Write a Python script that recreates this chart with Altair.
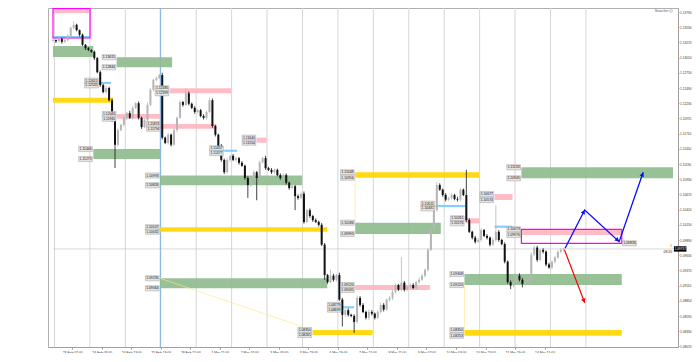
import json
import math
import altair as alt
import pandas as pd

# ---------------- data ----------------
# time axis: bar index (1 bar = 1 hour), each drawn candle spans 2 bars
time_label_bars = [13, 33, 53, 73, 93, 113, 133, 153, 173, 193, 213, 233, 253, 273, 293, 313, 333]
time_labels = ["23 Feb 07:00", "24 Feb 03:00", "24 Feb 23:00", "25 Feb 19:00", "28 Feb 15:00",
               "1 Mar 11:00", "2 Mar 07:00", "3 Mar 03:00", "3 Mar 23:00", "4 Mar 19:00",
               "7 Mar 15:00", "8 Mar 11:00", "9 Mar 07:00", "10 Mar 03:00", "10 Mar 23:00",
               "11 Mar 19:00", "14 Mar 15:00"]
day_separator_bars = [1, 25, 49, 73, 97, 121, 145, 169, 193, 217, 241, 265, 289, 313, 337, 361]
price_ticks = [1.13790, 1.13530, 1.13270, 1.13010, 1.12750, 1.12490, 1.12230, 1.11970, 1.11710,
               1.11450, 1.11190, 1.10930, 1.10670, 1.10410, 1.10150, 1.09890, 1.09630, 1.09370,
               1.09110, 1.08850, 1.08590, 1.08330, 1.08070]

first_open = 1.1330
closes = [
    1.1331, 1.1329, 1.1333, 1.1328, 1.1331, 1.1338, 1.1352, 1.1357, 1.1348, 1.1340,
    1.1323, 1.1317, 1.1314, 1.1311, 1.1300, 1.1276, 1.1254, 1.1242, 1.1249, 1.1228,
    1.1194, 1.1152, 1.1177, 1.1186, 1.1198, 1.1206, 1.1198, 1.1215, 1.1223, 1.1198,
    1.1182, 1.1194, 1.1220, 1.1246, 1.1263, 1.1266, 1.1271, 1.1164, 1.1155, 1.1169,
    1.1152, 1.1177, 1.1198, 1.1225, 1.1220, 1.1240, 1.1222, 1.1215, 1.1208, 1.1211,
    1.1201, 1.1198, 1.1208, 1.1228, 1.1184, 1.1169, 1.1150, 1.1126, 1.1105, 1.1126,
    1.1133, 1.1126, 1.1129, 1.1121, 1.1116, 1.1095, 1.1083, 1.1092, 1.1105, 1.1095,
    1.1122, 1.1129, 1.1112, 1.1109, 1.1105, 1.1109, 1.1100, 1.1095, 1.1100, 1.1087,
    1.1078, 1.1081, 1.1064, 1.1061, 1.1068, 1.1020, 1.1040, 1.1030, 1.1023, 1.1020,
    1.1015, 1.0981, 1.0929, 1.0917, 1.0928, 1.0921, 1.0929, 1.0887, 1.0861, 1.0869,
    1.0861, 1.0859, 1.0849, 1.0890, 1.0878, 1.0866, 1.0856, 1.0866, 1.0863, 1.0856,
    1.0866, 1.0878, 1.0870, 1.0887, 1.0890, 1.0900, 1.0912, 1.0904, 1.0916, 1.0904,
    1.0909, 1.0912, 1.0907, 1.0917, 1.0921, 1.0928, 1.0938, 1.0972, 1.1007, 1.1040,
    1.1083, 1.1075, 1.1066, 1.1058, 1.1061, 1.1066, 1.1059, 1.1058, 1.1075, 1.1066,
    1.1023, 1.1003, 1.0993, 1.0986, 1.0989, 1.1006, 1.0996, 1.0993, 1.0981, 1.0989,
    1.1003, 1.0989, 1.0982, 1.0952, 1.0917, 1.0911, 1.0917, 1.0928, 1.0921, 1.0914,
    1.0917, 1.0921, 1.0964, 1.0976, 1.0955, 1.0972, 1.0969, 1.0947, 1.0942, 1.0952,
    1.0959, 1.0969, 1.0972, 1.0974,
]
# wick lengths beyond the body, in pips
up_wick = [
    2, 1, 3, 2, 2, 3, 2, 6, 2, 1, 2, 1, 2, 1, 2, 2, 3, 2, 4, 2,
    3, 2, 3, 2, 3, 2, 4, 3, 2, 3, 2, 3, 4, 3, 2, 3, 2, 4, 2, 3,
    2, 3, 2, 3, 2, 8, 3, 2, 3, 2, 2, 3, 2, 4, 3, 2, 2, 3, 2, 3,
    2, 3, 2, 2, 3, 2, 3, 4, 3, 2, 3, 2, 4, 2, 3, 2, 2, 3, 2, 3,
    2, 3, 2, 3, 2, 4, 2, 3, 2, 3, 2, 3, 3, 2, 10, 3, 2, 4, 3, 2,
    3, 2, 3, 4, 3, 3, 2, 4, 3, 2, 3, 4, 3, 2, 3, 4, 3, 2, 44, 3,
    2, 3, 3, 2, 4, 3, 2, 3, 4, 3, 5, 3, 2, 3, 2, 3, 2, 4, 3, 2,
    43, 3, 2, 3, 4, 3, 2, 3, 2, 4, 45, 3, 2, 3, 2, 3, 2, 3, 4, 3,
    3, 2, 4, 3, 3, 2, 3, 2, 3, 2, 3, 2, 3, 2,
]
dn_wick = [
    2, 3, 2, 3, 2, 2, 3, 2, 2, 3, 2, 3, 2, 2, 3, 2, 3, 2, 3, 2,
    3, 40, 3, 2, 3, 4, 2, 3, 2, 3, 3, 2, 3, 2, 3, 3, 2, 3, 2, 3,
    3, 2, 3, 2, 3, 2, 3, 2, 3, 3, 2, 3, 3, 2, 3, 3, 2, 3, 3, 2,
    3, 2, 3, 3, 2, 3, 22, 3, 2, 38, 3, 2, 3, 2, 3, 3, 2, 3, 2, 3,
    3, 2, 24, 3, 2, 3, 2, 3, 3, 2, 3, 2, 8, 3, 2, 3, 3, 2, 20, 3,
    3, 2, 19, 3, 3, 2, 3, 4, 3, 3, 2, 3, 3, 2, 3, 4, 3, 2, 3, 3,
    2, 3, 2, 3, 3, 2, 3, 3, 2, 3, 3, 2, 3, 3, 2, 3, 2, 3, 3, 2,
    3, 2, 3, 3, 2, 3, 2, 3, 3, 2, 3, 3, 2, 3, 3, 6, 3, 2, 3, 6,
    3, 2, 4, 3, 3, 2, 3, 3, 2, 3, 3, 2, 3, 2,
]

# supply / demand zones
zone_x1 = [0, 43.1, 0, 43.3, 27.3, 79.1, 73.3, 72.5, 138, 72.5, 72.5, 175.8, 204.7, 204.7,
           204.7, 279.1, 299.1, 317.3, 278.7, 278.7, 0, 317.3]
zone_x2 = [27.3, 80.7, 40.7, 72.5, 72.5, 120.7, 110.7, 168.7, 144.7, 185.8, 185.8, 216.5, 255.3,
           288.7, 262.7, 288.7, 311.3, 420, 385.3, 385.3, 25.1, 385.3]
zone_top = [1.13208, 1.13015, 1.12324, 1.12045, 1.11446, 1.12485, 1.11874, 1.10993, 1.11640,
            1.10107, 1.09235, 1.08350, 1.09120, 1.11048, 1.10186, 1.10261, 1.10677, 1.11133,
            1.09308, 1.08350, 1.13852, 1.10073]
zone_bot = [1.13020, 1.12844, 1.12238, 1.11965, 1.11275, 1.12399, 1.11794, 1.10826, 1.11554,
            1.10032, 1.09064, 1.08265, 1.09035, 1.10956, 1.09993, 1.10176, 1.10574, 1.10945,
            1.09120, 1.08253, 1.13773, 1.09976]
zone_kind = ["demand", "demand", "level", "supply", "demand", "supply", "supply", "demand",
             "supply", "level", "demand", "level", "supply", "level", "demand", "supply",
             "supply", "demand", "demand", "level", "supply", "supply"]
zone_labeled = [False, True, False, True, True, True, True, True, True, True, True, True, True,
                True, True, True, True, True, True, True, False, True]

# light blue pivot lines
pivot_x1 = [0, 31.3, 116, 195.8, 259.1, 299.1]
pivot_x2 = [25.1, 39.3, 124.7, 204, 279.1, 311.3]
pivot_p = [1.13360, 1.12575, 1.11417, 1.08739, 1.10471, 1.10117]
pivot_labeled = [False, True, True, True, True, False]

# magenta boxes
box_x1 = [0, 317.3]
box_x2 = [25.1, 385.3]
box_top = [1.13852, 1.10073]
box_bot = [1.13345, 1.09833]

# faint yellow connectors
conn_x1 = [72.5, 204.7, 278.7]
conn_p1 = [1.09235, 1.10956, 1.09120]
conn_x2 = [169.1, 204.7, 278.7]
conn_p2 = [1.08407, 1.10186, 1.08350]

# projection paths
blue_x = [346.9, 360.2, 383.5, 399.8]
blue_p = [1.09748, 1.10404, 1.09862, 1.11049]
red_x = [346.5, 360.2]
red_p = [1.09720, 1.08817]

current_price = 1.09737
blue_vline_bar = 72.7

# ---------------- layout / style constants ----------------
W, H = 630, 339
X_DOMAIN = [0, 420]
Y_DOMAIN = [1.08060, 1.13858]
PX_BAR = W / (X_DOMAIN[1] - X_DOMAIN[0])
PX_PRICE = H / (Y_DOMAIN[1] - Y_DOMAIN[0])
FONT = "Liberation Sans"
FS = 3.4
FS_AX = 3.2
LAB_W = 9.3
LAB_H = 0.00044
ZONE_COLORS = {"demand": "#8fbc8f", "supply": "#ffb6c1", "level": "#ffd700"}
CANDLE_COLORS = {"bull": "#b5b5b5", "bear": "#111111"}
visible_ticks = [t for t in price_ticks if Y_DOMAIN[0] <= t <= Y_DOMAIN[1]]

x_axis = alt.Axis(
    orient="bottom", values=time_label_bars, title=None, grid=False,
    labelExpr=f"{json.dumps(time_labels)}[indexof({json.dumps(time_label_bars)}, datum.value)]",
    labelFontSize=FS, labelFont=FONT, labelColor="#333333", tickSize=2, tickColor="#999999",
    domainColor="#a0a0a0", labelPadding=1, labelOverlap=False, labelFlush=False, labelAngle=0,
)
y_axis = alt.Axis(
    orient="right", values=visible_ticks, format=".5f", title=None, grid=False,
    labelFontSize=FS_AX, labelFont=FONT, labelColor="#333333", tickSize=1, tickColor="#999999",
    domainColor="#a0a0a0", labelPadding=0.5, labelOverlap=False, labelFlush=False,
)


def X(f="x"):
    return alt.X(f"{f}:Q", scale=alt.Scale(domain=X_DOMAIN, nice=False, zero=False), axis=x_axis)


def Y(f="y"):
    return alt.Y(f"{f}:Q", scale=alt.Scale(domain=Y_DOMAIN, nice=False, zero=False), axis=y_axis)


def C(f="col"):
    return alt.Color(f"{f}:N", scale=None, legend=None)


# ---------------- frames ----------------
opens = [first_open] + closes[:-1]
dirs = ["bull" if c > o else "bear" for o, c in zip(opens, closes)]
candles = pd.DataFrame({
    "x": [2 * i for i in range(len(closes))],
    "o": opens,
    "c": closes,
    "hi": [max(o, c) + u * 0.0001 for o, c, u in zip(opens, closes, up_wick)],
    "lo": [min(o, c) - d * 0.0001 for o, c, d in zip(opens, closes, dn_wick)],
    "col": [CANDLE_COLORS[d] for d in dirs],
})

zones = pd.DataFrame({"x": zone_x1, "x2": zone_x2, "y": zone_top, "y2": zone_bot,
                      "col": [ZONE_COLORS[k] for k in zone_kind]})

lab_rows = []
for x1, t, b, lab in zip(zone_x1, zone_top, zone_bot, zone_labeled):
    if lab:
        for p in (t, b):
            lab_rows.append((x1 - 0.6 - LAB_W, x1 - 0.6, p))
for x1, p, lab in zip(pivot_x1, pivot_p, pivot_labeled):
    if lab:
        for q in (p + 0.0004, p - 0.0004):
            lab_rows.append((x1 - 0.6 - LAB_W, x1 - 0.6, q))
lab_rows.append((box_x2[1] + 0.6, box_x2[1] + 0.6 + LAB_W, box_bot[1]))
labels = pd.DataFrame({
    "x": [r[0] for r in lab_rows],
    "x2": [r[1] for r in lab_rows],
    "xm": [(r[0] + r[1]) / 2 for r in lab_rows],
    "y": [r[2] + LAB_H for r in lab_rows],
    "y2": [r[2] - LAB_H for r in lab_rows],
    "p": [r[2] for r in lab_rows],
    "t": [f"{r[2]:.5f}" for r in lab_rows],
})

pivots = pd.DataFrame({"x": pivot_x1, "x2": pivot_x2, "y": pivot_p})
boxes = pd.DataFrame({"x": box_x1, "x2": box_x2, "y": box_top, "y2": box_bot})
conns = pd.DataFrame({"x": conn_x1, "x2": conn_x2, "y": conn_p1, "y2": conn_p2})
seps = pd.DataFrame({"x": day_separator_bars})
blue = pd.DataFrame({"x": blue_x, "y": blue_p, "o": list(range(len(blue_x)))})
red = pd.DataFrame({"x": red_x, "y": red_p, "o": list(range(len(red_x)))})


def heads(xs, ps):
    rows = []
    for i in range(1, len(xs)):
        dx = (xs[i] - xs[i - 1]) * PX_BAR
        dy = -(ps[i] - ps[i - 1]) * PX_PRICE
        ln = math.hypot(dx, dy)
        ux, uy = dx / ln, dy / ln
        ang = math.degrees(math.atan2(dx, -dy)) % 360
        rows.append({"x": xs[i] - 2.2 * ux / PX_BAR, "y": ps[i] + 2.2 * uy / PX_PRICE, "ang": ang})
    return pd.DataFrame(rows)


blue_heads = heads(blue_x, blue_p)
red_heads = heads(red_x, red_p)

# ---------------- layers ----------------
layers = []
layers.append(alt.Chart(seps).mark_rule(color="#d6d6d6", strokeWidth=1).encode(
    x=X(), y=alt.value(0), y2=alt.value(H)))
layers.append(alt.Chart(pd.DataFrame({"x": [X_DOMAIN[0]], "x2": [X_DOMAIN[1]], "y": [current_price]}))
              .mark_rule(color="#cfcfcf", strokeWidth=0.8).encode(x=X(), x2="x2:Q", y=Y()))
layers.append(alt.Chart(pd.DataFrame({"x": [blue_vline_bar]})).mark_rule(color="#79aee3", strokeWidth=1).encode(
    x=X(), y=alt.value(0), y2=alt.value(H)))
layers.append(alt.Chart(zones).mark_rect(opacity=0.92).encode(
    x=X(), x2="x2:Q", y=Y(), y2="y2:Q", color=C()))
layers.append(alt.Chart(pivots).mark_rule(color="#87cefa", strokeWidth=2.2).encode(
    x=X(), x2="x2:Q", y=Y()))
layers.append(alt.Chart(boxes).mark_rect(fillOpacity=0, stroke="#ff00ff", strokeWidth=1.2).encode(
    x=X(), x2="x2:Q", y=Y(), y2="y2:Q"))
layers.append(alt.Chart(conns).mark_rule(color="#ffe680", strokeWidth=0.8, opacity=0.8).encode(
    x=X(), x2="x2:Q", y=Y(), y2="y2:Q"))

layers.append(alt.Chart(candles).mark_rule(strokeWidth=0.8).encode(
    x=X(), y=Y("lo"), y2="hi:Q", color=C()))
layers.append(alt.Chart(candles).mark_bar(size=2).encode(
    x=X(), y=Y("o"), y2="c:Q", color=C()))

layers.append(alt.Chart(labels).mark_rect(fill="#e4e4e4", stroke="#8a8a8a", strokeWidth=0.4).encode(
    x=X(), x2="x2:Q", y=Y(), y2="y2:Q"))
layers.append(alt.Chart(labels).mark_text(fontSize=FS, font=FONT, color="#111111", align="center",
                                          baseline="middle").encode(x=X("xm"), y=Y("p"), text="t:N"))

layers.append(alt.Chart(blue).mark_line(color="#0a0aff", strokeWidth=1.3).encode(x=X(), y=Y(), order="o:Q"))
layers.append(alt.Chart(blue_heads).mark_point(shape="triangle-up", filled=True, size=22, color="#0a0aff",
                                               opacity=1).encode(x=X(), y=Y(), angle=alt.Angle("ang:Q", scale=None)))
layers.append(alt.Chart(red).mark_line(color="#ff0000", strokeWidth=1.2).encode(x=X(), y=Y(), order="o:Q"))
layers.append(alt.Chart(red_heads).mark_point(shape="triangle-up", filled=True, size=22, color="#ff0000",
                                              opacity=1).encode(x=X(), y=Y(), angle=alt.Angle("ang:Q", scale=None)))

# price tag and small texts
tag = pd.DataFrame({"x": [420.6], "x2": [429.1], "xm": [424.85], "y": [current_price + 0.00046],
                    "y2": [current_price - 0.00046], "p": [current_price], "t": [f"{current_price:.5f}"]})
layers.append(alt.Chart(tag).mark_rect(color="#000000").encode(x=X(), x2="x2:Q", y=Y(), y2="y2:Q"))
layers.append(alt.Chart(tag).mark_text(fontSize=FS_AX, font=FONT, color="#ffffff", align="center",
                                       baseline="middle").encode(x=X("xm"), y=Y("p"), text="t:N"))
info = pd.DataFrame({"x": [419.4, 419.2, 417.0], "y": [1.09681, 1.09790, 1.13807],
                     "t": ["08:20", "3", "Searcher"], "col": ["#222222", "#ff6a00", "#555555"]})
layers.append(alt.Chart(info).mark_text(fontSize=FS, font=FONT, align="right", baseline="middle").encode(
    x=X(), y=Y(), text="t:N", color=C()))
layers.append(alt.Chart(pd.DataFrame({"x": [418.7], "y": [1.13807]})).mark_point(
    shape="circle", size=7, color="#777777", strokeWidth=0.6).encode(x=X(), y=Y()))

chart = alt.layer(*layers).properties(
    width=W, height=H, background="white",
    padding={"left": 40, "top": 0, "right": 14, "bottom": 6},
    autosize=alt.AutoSizeParams(type="none"),
).configure_view(stroke="#b0b0b0", strokeWidth=1)

chart.save("out.html", embed_options={"renderer": "svg", "actions": False})
